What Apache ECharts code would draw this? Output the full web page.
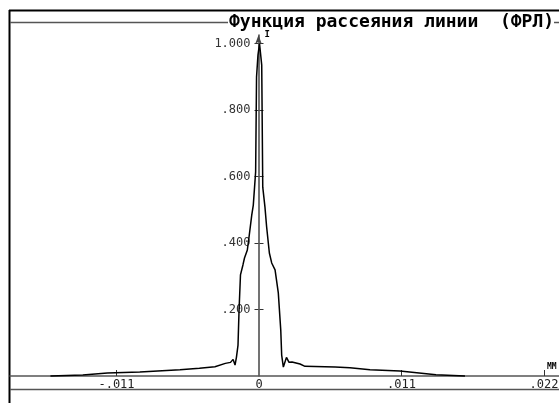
<!DOCTYPE html>
<html>
<head>
<meta charset="utf-8">
<script src="https://cdn.jsdelivr.net/npm/echarts@6/dist/echarts.min.js"></script>
<style>
html,body{margin:0;padding:0;background:#fff;}
#chart{width:559px;height:403px;}
</style>
</head>
<body>
<div id="chart"></div>
<script>
const titleText = 'Функция рассеяния линии  (ФРЛ)';
const xUnit = 'MM';
const yUnit = 'I';
const xTickValues = [-0.011, 0.011, 0.022];
const xLabelValues = [-0.011, 0, 0.011, 0.022];
const yTickValues = [0.2, 0.4, 0.6, 0.8, 1.0];

const psfX = [-0.0161, -0.0136, -0.0117, -0.0092, -0.0061, -0.0046, -0.0034, -0.0026, -0.0022, -0.0020,
  -0.00185, -0.00174, -0.00162, -0.00154, -0.00143, -0.00124, -0.00112, -0.0009, -0.00075, -0.00056,
  -0.00044, -0.00026, -0.00019, -0.00008, 0.00004, 0.00012, 0.00021, 0.00029, 0.00046, 0.00059,
  0.0008, 0.00098, 0.00124, 0.00149, 0.00168, 0.00175, 0.00188, 0.00212, 0.00232, 0.00255,
  0.00317, 0.00355, 0.00587, 0.00702, 0.00857, 0.01088, 0.01366, 0.0159];
const psfY = [0.0, 0.003, 0.009, 0.012, 0.019, 0.023, 0.028, 0.038, 0.041, 0.050,
  0.033, 0.057, 0.093, 0.198, 0.304, 0.334, 0.355, 0.379, 0.424, 0.484,
  0.514, 0.614, 0.899, 0.965, 1.0, 0.995, 0.935, 0.568, 0.508, 0.448,
  0.370, 0.340, 0.319, 0.250, 0.138, 0.063, 0.027, 0.056, 0.041, 0.042,
  0.036, 0.029, 0.027, 0.025, 0.019, 0.015, 0.004, 0.0];

const n = Math.min(psfX.length, psfY.length);
const psfData = [];
for (let i = 0; i < n; i++) psfData.push([psfX[i], psfY[i]]);

function fmt(v) {
  if (v === 0) return '0';
  const s = Math.abs(v).toFixed(3);
  const t = s.startsWith('0') ? s.slice(1) : s;
  return (v < 0 ? '-' : '') + t;
}

const mono = 'DejaVu Sans Mono';
const xMin = -0.019222, xMax = 0.023159;
const yMin = 0, yMax = 1.0256;
const chart = echarts.init(document.getElementById('chart'), null, {renderer: 'canvas'});
chart.setOption({
  animation: false,
  backgroundColor: '#fff',
  grid: [
    {left: 10, right: 0, top: 35, bottom: 27, outerBoundsMode: 'none', containLabel: false},
    {left: 258.5, width: 1, top: 35, bottom: 27, outerBoundsMode: 'none', containLabel: false}
  ],
  title: {
    text: titleText,
    left: 229, top: 13,
    padding: 0,
    textStyle: {fontFamily: mono, fontWeight: 'bold', fontSize: 18, color: '#000'}
  },
  xAxis: [{
    type: 'value', gridIndex: 0,
    min: xMin, max: xMax,
    axisLine: {onZero: false, lineStyle: {color: '#555', width: 1.5}},
    axisTick: {show: true, inside: true, length: 6, customValues: xTickValues, lineStyle: {color: '#333'}},
    axisLabel: {customValues: xLabelValues, formatter: fmt, margin: 3,
      fontFamily: mono, fontSize: 12, color: '#222'},
    splitLine: {show: false}
  }, {
    type: 'value', gridIndex: 1, min: 0, max: 1, show: false
  }],
  yAxis: [{
    type: 'value', gridIndex: 0,
    min: yMin, max: yMax, show: false
  }, {
    type: 'value', gridIndex: 1, position: 'left',
    min: yMin, max: yMax,
    axisLine: {onZero: false, symbol: ['none', 'arrow'], symbolSize: [5, 9], lineStyle: {color: '#444', width: 1.5}},
    axisTick: {show: true, length: 4, customValues: yTickValues, lineStyle: {color: '#333'}},
    axisLabel: {customValues: yTickValues, formatter: fmt, margin: 8,
      fontFamily: mono, fontSize: 12, color: '#333'},
    splitLine: {show: false}
  }, {
    type: 'value', gridIndex: 1, position: 'right',
    min: yMin, max: yMax,
    name: yUnit, nameLocation: 'end', nameGap: -4,
    nameTextStyle: {fontFamily: mono, fontSize: 9, fontWeight: 'bold', color: '#000', align: 'left', padding: [0, 0, 0, 5]},
    axisLine: {onZero: false, show: false},
    axisTick: {show: true, length: 4, customValues: yTickValues, lineStyle: {color: '#333'}},
    axisLabel: {show: false},
    splitLine: {show: false}
  }],
  graphic: [
    {type: 'line', shape: {x1: 9, y1: 10.5, x2: 559, y2: 10.5}, style: {stroke: '#000', lineWidth: 2}},
    {type: 'line', shape: {x1: 9.5, y1: 10, x2: 9.5, y2: 403}, style: {stroke: '#000', lineWidth: 2}},
    {type: 'line', shape: {x1: 10, y1: 22.5, x2: 228, y2: 22.5}, style: {stroke: '#555', lineWidth: 1.5}},
    {type: 'line', shape: {x1: 554, y1: 22.5, x2: 559, y2: 22.5}, style: {stroke: '#555', lineWidth: 1.5}},
    {type: 'line', shape: {x1: 10, y1: 389.5, x2: 559, y2: 389.5}, style: {stroke: '#555', lineWidth: 1.5}},
    {type: 'text', left: 547, top: 363, style: {text: xUnit, font: 'bold 8px "DejaVu Sans Mono"', fill: '#000'}}
  ],
  series: [{
    type: 'line',
    xAxisIndex: 0, yAxisIndex: 0,
    data: psfData,
    showSymbol: false,
    symbol: 'none',
    lineStyle: {color: '#000', width: 1.5},
    clip: false
  }]
});
</script>
</body>
</html>
